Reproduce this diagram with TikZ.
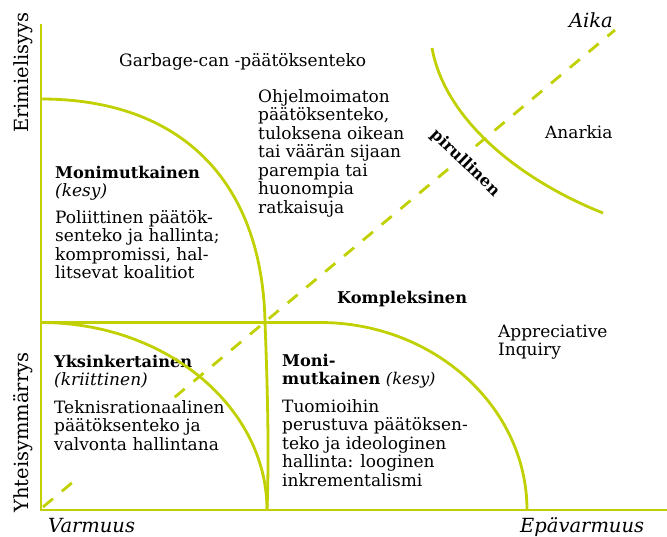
\documentclass[tikz,border=0pt]{standalone}
\usepackage{fontspec}
\setmainfont{DejaVu Serif}
\definecolor{lime}{RGB}{192,208,0}
\newcommand{\bsz}{\fontsize{16.2}{18.5}\selectfont\bfseries}
\tikzset{
  txt/.style={anchor=base west, inner sep=0pt, font=\fontsize{17}{18.5}\selectfont},
  axlab/.style={anchor=base west, inner sep=0pt, font=\fontsize{19.5}{22}\selectfont},
  curve/.style={draw=lime, line width=2.8pt},
  dashline/.style={draw=lime, line width=2.8pt, dash pattern=on 13pt off 11.5pt},
}
\newcommand{\lines}[1]{\begin{tabular}[t]{@{}l@{}}#1\end{tabular}}
\begin{document}
\begin{tikzpicture}[x=1pt,y=-1pt]
\useasboundingbox (0,0) rectangle (667,536);
% dashed time diagonal
\coordinate (o) at (43,507);
\coordinate (t) at (615,30);
\draw[dashline] (o) -- (t);
% texts
\node[txt] (garb) at (119,66) {Garbage-can -päätöksenteko};
\node[txt] (ohj) at (258,102) {\lines{Ohjelmoimaton\\päätöksenteko,\\tuloksena oikean\\tai väärän sijaan\\parempia tai\\huonompia\\ratkaisuja}};
\node[txt] (anar) at (545,138) {Anarkia};
\node[axlab, anchor=base east] (aika) at (613,27) {\itshape Aika};
\node[txt] (mon1) at (55,178) {\lines{\bsz Monimutkainen\\\itshape (kesy)}};
\node[txt] (pol) at (55,223) {\lines{Poliittinen päätök-\\senteko ja hallinta;\\kompromissi, hal-\\litsevat koalitiot}};
\node[txt] (komp) at (337,303) {\bsz Kompleksinen};
\node[txt] (appr) at (498,337) {\lines{Appreciative\\Inquiry}};
\node[txt] (yks) at (54,367) {\lines{\bsz Yksinkertainen\\\itshape (kriittinen)}};
\node[txt, fill=white] (tek) at (54,413) {\lines{Teknisrationaalinen\\päätöksenteko ja\\valvonta hallintana\\[22pt]}};
\node[txt] (mon2) at (282,366) {\lines{\bsz Moni-\\\bsz mutkainen \mdseries\itshape (kesy)}};
\node[txt] (tuo) at (282,412) {\lines{Tuomioihin\\perustuva päätöksen-\\teko ja ideologinen\\hallinta: looginen\\inkrementalismi}};
\node[axlab] (varm) at (48,532) {\itshape Varmuus};
\node[axlab] (epav) at (520,532) {\itshape Epävarmuus};
\node[axlab, rotate=90] (erim) at (28,133) {Erimielisyys};
\node[axlab, rotate=90] (yht) at (28,513) {Yhteisymmärrys};
\node[fill=white, inner sep=1.5pt, rotate=-44, font=\fontsize{16}{18}\selectfont\bfseries] (pir) at (465,163) {pirullinen};
% curves
\draw[curve] (41,24) -- (41,510) -- (667,510);
\draw[curve] (41,322.5) -- (320,322.5) .. controls (434,322.5) and (527,407) .. (527,510);
\draw[curve] (41,322.5) .. controls (166,322.5) and (267,407) .. (267,510);
\draw[curve] (41,99) .. controls (180,99) and (262,180) .. (265,322) .. controls (268,400) and (269,460) .. (267,510);
\draw[curve] (432,48) .. controls (445,120) and (520,180) .. (603,213);
\end{tikzpicture}
\end{document}
